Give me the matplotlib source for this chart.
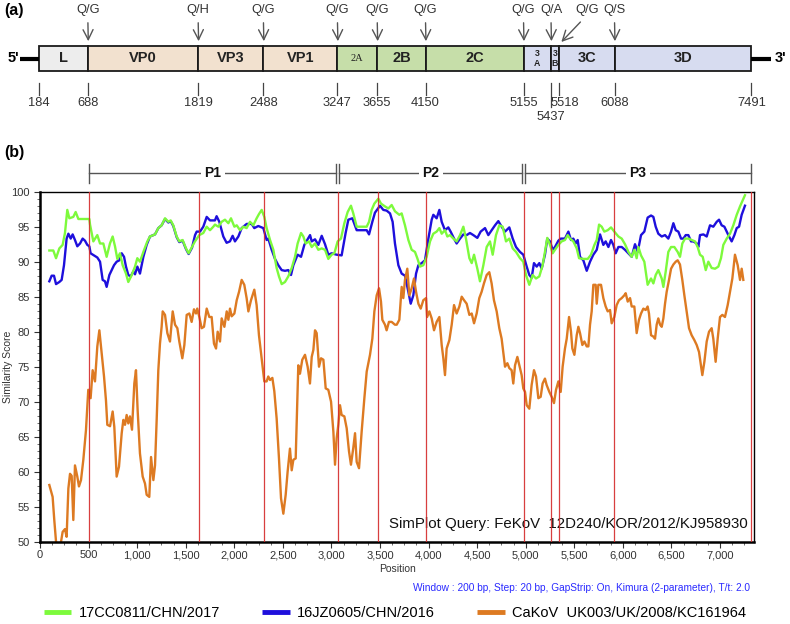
import matplotlib
matplotlib.use("Agg")
import matplotlib.pyplot as plt
from matplotlib.patches import Rectangle
from matplotlib.ticker import MultipleLocator, StrMethodFormatter

plt.rcParams['font.family'] = ['Liberation Sans', 'DejaVu Sans']

# genome map (a)
gene_names = ['L', 'VP0', 'VP3', 'VP1', '2A', '2B', '2C', '3\nA', '3\nB', '3C', '3D']
gene_bounds = [184, 688, 1819, 2488, 3247, 3655, 4150, 5155, 5437, 5518, 6088, 7491]
gene_groups = ['L', 'P1', 'P1', 'P1', 'P2', 'P2', 'P2', 'P3', 'P3', 'P3', 'P3']
site_pos = [688, 1819, 2488, 3247, 3655, 4150, 5155, 5437, 5518, 6088]
site_names = ['Q/G', 'Q/H', 'Q/G', 'Q/G', 'Q/G', 'Q/G', 'Q/G', 'Q/A', 'Q/G', 'Q/S']

# simplot (b)
boundary_pos = [508, 1639, 2310, 3064, 3480, 3970, 4978, 5257, 5343, 5909, 7318]
region_names = ['P1', 'P2', 'P3']
region_bounds = [508, 3064, 4978, 7318]

green_pos = [96, 137, 165, 199, 233, 257, 281, 302, 343, 367, 395, 508, 515, 549, 590, 618, 652, 686, 720, 748,
             772, 796, 823, 851, 885, 909, 944, 978, 1002, 1029, 1064, 1105, 1132, 1184, 1218, 1252, 1287, 1321,
             1345, 1372, 1407, 1434, 1468, 1503, 1530, 1565, 1595, 1640, 1681, 1716, 1750, 1784, 1801, 1836, 1870,
             1904, 1939, 1966, 2001, 2025, 2059, 2093, 2127, 2162, 2196, 2230, 2254, 2282, 2309, 2333, 2368, 2402,
             2436, 2460, 2488, 2522, 2556, 2591, 2625, 2652, 2687, 2711, 2735, 2769, 2797, 2831, 2865, 2900, 2934,
             2968, 3002, 3030, 3064, 3098, 3133, 3167, 3201, 3225, 3260, 3311, 3363, 3387, 3414, 3442, 3483, 3510,
             3551, 3586, 3620, 3654, 3699, 3723, 3757, 3792, 3826, 3860, 3884, 3912, 3946, 3980, 4015, 4049, 4083,
             4111, 4135, 4169, 4193, 4221, 4255, 4289, 4324, 4358, 4385, 4420, 4444, 4468, 4502, 4529, 4564, 4598,
             4632, 4660, 4694, 4728, 4763, 4797, 4831, 4866, 4900, 4941, 4975, 5003, 5037, 5071, 5106, 5140, 5174,
             5198, 5222, 5250, 5277, 5301, 5336, 5370, 5404, 5432, 5456, 5490, 5525, 5549, 5593, 5638, 5672, 5707,
             5731, 5755, 5782, 5809, 5844, 5878, 5912, 5954, 5988, 6022, 6057, 6091, 6118, 6142, 6160, 6187, 6221,
             6255, 6290, 6314, 6338, 6365, 6400, 6417, 6441, 6468, 6496, 6530, 6564, 6588, 6612, 6640, 6674, 6708,
             6743, 6770, 6794, 6822, 6853, 6880, 6914, 6949, 6983, 7010, 7034, 7069, 7103, 7137, 7172, 7206, 7257]
green_sim = [91.6, 91.6, 90.5, 91.9, 92.4, 94.1, 97.4, 96.2, 96.4, 97.1, 96.1, 96.1, 95.3, 92.9, 93.8, 92.6, 92.6,
             90.7, 92.6, 93.6, 92.2, 90.4, 91.2, 89.5, 88.3, 87.1, 88.1, 89.3, 90.5, 90.0, 91.4, 92.9, 93.6, 93.9,
             94.8, 95.2, 96.2, 95.7, 95.9, 95.2, 93.6, 92.9, 93.1, 91.9, 91.2, 92.1, 92.9, 93.8, 94.1, 95.0, 94.5,
             95.0, 95.3, 95.0, 95.7, 96.0, 95.5, 96.2, 95.0, 95.2, 94.5, 95.0, 94.8, 95.7, 95.2, 96.2, 96.8, 97.4,
             96.4, 94.8, 93.1, 91.7, 89.1, 87.9, 86.8, 87.1, 87.9, 89.1, 90.7, 92.6, 94.1, 93.6, 92.6, 92.9, 92.1,
             92.6, 91.7, 91.9, 91.7, 90.4, 91.0, 91.2, 92.9, 93.3, 95.5, 97.1, 98.0, 96.9, 95.0, 95.0, 95.0, 95.7,
             97.4, 98.3, 99.0, 98.3, 97.9, 97.6, 98.1, 97.2, 96.7, 96.9, 95.2, 93.1, 91.7, 91.4, 90.5, 89.3, 89.5,
             90.7, 92.9, 94.0, 94.3, 94.8, 94.0, 94.5, 93.6, 93.8, 93.3, 92.9, 93.8, 95.0, 93.3, 90.5, 89.8, 91.0,
             89.0, 87.2, 89.5, 92.1, 92.9, 91.0, 93.8, 95.2, 95.0, 92.9, 93.3, 91.9, 91.4, 90.5, 90.0, 88.1, 86.7,
             88.1, 87.6, 87.9, 89.5, 91.4, 93.4, 92.4, 91.2, 91.7, 92.4, 92.9, 93.1, 93.8, 93.3, 92.9, 91.9, 90.5,
             90.4, 90.4, 91.0, 92.4, 93.1, 95.3, 95.0, 94.3, 94.5, 94.9, 94.3, 93.6, 93.3, 92.5, 91.4, 90.7, 91.7,
             90.5, 92.1, 90.9, 90.0, 86.7, 87.6, 86.9, 88.1, 88.8, 87.6, 86.4, 88.6, 91.4, 92.1, 92.1, 91.4, 90.7,
             92.6, 93.3, 93.3, 93.1, 92.9, 92.1, 91.0, 90.7, 88.8, 90.0, 89.1, 89.0, 89.3, 90.5, 92.4, 93.3, 94.0,
             95.2, 96.7, 97.9, 99.5]

blue_pos = [96, 120, 144, 165, 199, 223, 247, 274, 292, 316, 336, 360, 384, 412, 439, 463, 487, 508, 521, 556, 590,
            618, 645, 669, 686, 714, 738, 762, 789, 817, 841, 865, 885, 909, 933, 961, 978, 1002, 1029, 1064, 1098,
            1132, 1184, 1218, 1252, 1287, 1321, 1345, 1372, 1407, 1434, 1468, 1503, 1530, 1565, 1596, 1613, 1647,
            1681, 1716, 1750, 1801, 1818, 1846, 1887, 1921, 1955, 1983, 2007, 2042, 2076, 2128, 2179, 2206, 2247,
            2299, 2333, 2350, 2385, 2419, 2453, 2488, 2522, 2556, 2584, 2608, 2652, 2687, 2721, 2780, 2797, 2831,
            2865, 2900, 2934, 2968, 3002, 3054, 3105, 3146, 3174, 3215, 3260, 3363, 3387, 3421, 3448, 3500, 3534,
            3568, 3603, 3630, 3654, 3689, 3723, 3757, 3792, 3816, 3843, 3871, 3895, 3929, 3963, 3998, 4032, 4049,
            4083, 4111, 4135, 4169, 4203, 4227, 4262, 4289, 4324, 4358, 4392, 4426, 4461, 4502, 4536, 4581, 4615,
            4649, 4684, 4718, 4752, 4787, 4831, 4866, 4900, 4941, 4975, 5010, 5037, 5061, 5085, 5113, 5140, 5164,
            5198, 5222, 5250, 5277, 5301, 5336, 5360, 5404, 5439, 5466, 5490, 5514, 5535, 5559, 5593, 5628, 5662,
            5696, 5731, 5765, 5799, 5823, 5851, 5878, 5902, 5926, 5954, 5988, 6022, 6057, 6091, 6125, 6153, 6187,
            6221, 6255, 6290, 6314, 6338, 6365, 6400, 6434, 6468, 6496, 6520, 6544, 6571, 6599, 6623, 6647, 6674,
            6702, 6726, 6760, 6777, 6794, 6829, 6863, 6897, 6931, 6966, 6990, 7017, 7045, 7069, 7093, 7120, 7148,
            7172, 7196, 7223, 7257]
blue_sim = [87.2, 88.0, 88.0, 86.8, 87.1, 87.4, 89.5, 93.3, 94.0, 93.3, 93.9, 93.1, 92.2, 92.6, 93.3, 93.0, 92.4,
            92.2, 91.2, 90.9, 90.6, 90.0, 87.4, 87.2, 86.4, 88.1, 88.8, 89.5, 90.0, 90.2, 91.2, 90.7, 89.3, 88.1,
            87.9, 88.6, 88.2, 89.3, 88.3, 90.7, 92.4, 93.6, 93.9, 94.8, 95.2, 96.1, 95.6, 95.8, 95.1, 93.5, 92.8,
            93.0, 91.8, 91.1, 92.0, 93.8, 94.3, 94.3, 95.0, 96.4, 95.9, 95.9, 96.5, 95.7, 93.6, 92.7, 92.9, 93.7,
            92.9, 93.6, 94.8, 95.4, 95.4, 94.8, 95.1, 94.8, 93.1, 93.3, 91.7, 90.4, 89.5, 88.8, 88.7, 88.8, 88.1,
            89.5, 91.0, 90.7, 92.4, 93.8, 92.9, 93.2, 92.4, 93.7, 92.5, 91.0, 91.2, 91.0, 90.9, 94.1, 96.0, 96.2,
            94.5, 94.5, 93.9, 95.7, 97.0, 98.0, 97.4, 97.3, 96.9, 95.7, 92.6, 89.5, 88.3, 88.0, 85.7, 84.0, 85.2,
            88.3, 89.5, 89.8, 90.2, 93.3, 96.0, 96.7, 96.2, 97.4, 95.7, 94.5, 94.9, 94.3, 93.3, 92.6, 93.3, 93.9,
            93.8, 94.1, 93.8, 93.4, 94.3, 94.8, 93.8, 94.5, 95.2, 95.8, 95.0, 94.3, 94.9, 93.3, 92.1, 91.4, 91.0,
            89.3, 88.1, 87.7, 89.8, 89.3, 89.8, 89.0, 91.0, 93.3, 92.9, 91.7, 92.1, 93.0, 93.3, 93.3, 94.3, 93.1,
            93.3, 92.6, 93.1, 90.7, 90.2, 88.7, 90.0, 91.0, 91.7, 93.9, 92.4, 92.9, 92.1, 93.1, 92.4, 91.2, 92.1,
            92.1, 91.7, 91.2, 90.7, 92.5, 91.4, 93.8, 94.3, 96.3, 96.6, 96.4, 95.0, 94.0, 93.6, 93.8, 93.3, 94.3,
            95.5, 94.5, 94.3, 93.3, 93.3, 93.8, 93.8, 92.9, 92.9, 92.6, 92.1, 93.8, 93.9, 93.6, 95.2, 95.0, 95.7,
            96.0, 95.2, 95.0, 94.3, 93.6, 92.9, 93.8, 94.8, 95.0, 96.7, 98.0]

orange_pos = [96, 130, 147, 165, 182, 199, 216, 233, 257, 274, 292, 309, 326, 343, 360, 384, 401, 422, 446, 473, 497,
              521, 542, 566, 590, 611, 635, 659, 679, 693, 721, 748, 765, 789, 813, 841, 858, 875, 892, 909, 926, 947,
              971, 988, 1005, 1029, 1057, 1081, 1098, 1125, 1143, 1167, 1184, 1201, 1218, 1235, 1252, 1263, 1287,
              1311, 1338, 1366, 1390, 1414, 1434, 1465, 1486, 1510, 1537, 1561, 1585, 1606, 1619, 1640, 1664, 1688,
              1716, 1743, 1767, 1791, 1812, 1829, 1853, 1870, 1898, 1922, 1939, 1956, 1973, 2001, 2025, 2049, 2076,
              2103, 2127, 2145, 2172, 2206, 2230, 2254, 2282, 2309, 2333, 2350, 2368, 2392, 2412, 2436, 2460, 2481,
              2505, 2529, 2549, 2573, 2591, 2608, 2632, 2659, 2676, 2700, 2728, 2755, 2779, 2797, 2814, 2831, 2848,
              2872, 2893, 2917, 2941, 2968, 2996, 3020, 3037, 3054, 3071, 3088, 3105, 3133, 3157, 3181, 3201, 3225,
              3243, 3260, 3284, 3311, 3339, 3363, 3397, 3421, 3442, 3466, 3490, 3510, 3524, 3551, 3568, 3592, 3620,
              3654, 3672, 3699, 3723, 3740, 3757, 3781, 3802, 3826, 3850, 3871, 3895, 3919, 3946, 3974, 3985, 4008,
              4032, 4056, 4083, 4111, 4135, 4152, 4169, 4186, 4214, 4238, 4262, 4289, 4317, 4341, 4365, 4392, 4420,
              4444, 4468, 4495, 4522, 4546, 4570, 4598, 4625, 4649, 4673, 4701, 4728, 4752, 4770, 4787, 4811, 4831,
              4855, 4872, 4890, 4914, 4934, 4958, 4975, 4993, 5010, 5037, 5061, 5085, 5106, 5130, 5154, 5174, 5198,
              5215, 5243, 5267, 5291, 5312, 5336, 5360, 5380, 5404, 5422, 5446, 5466, 5480, 5501, 5525, 5542, 5559,
              5583, 5604, 5628, 5645, 5662, 5679, 5696, 5720, 5731, 5748, 5775, 5799, 5823, 5844, 5868, 5885, 5912,
              5936, 5960, 5988, 6015, 6029, 6050, 6074, 6091, 6118, 6142, 6166, 6187, 6211, 6235, 6255, 6269, 6290,
              6314, 6331, 6348, 6365, 6383, 6400, 6417, 6434, 6451, 6475, 6496, 6520, 6544, 6564, 6588, 6612, 6633,
              6657, 6681, 6708, 6736, 6760, 6784, 6805, 6818, 6839, 6863, 6887, 6914, 6931, 6955, 6976, 7000, 7024,
              7051, 7079, 7103, 7127, 7154, 7182, 7206, 7223, 7240]
orange_sim = [58.1, 56.4, 53.1, 50.0, 48.0, 48.5, 50.0, 51.4, 51.8, 50.7, 57.6, 59.7, 59.4, 53.1, 60.9, 59.3, 57.9,
              58.8, 61.7, 65.9, 71.7, 70.5, 74.5, 72.9, 77.9, 80.2, 76.9, 73.6, 70.2, 66.7, 66.5, 68.6, 66.4, 59.3,
              60.7, 65.5, 67.4, 66.7, 68.1, 66.9, 67.9, 66.0, 72.6, 74.5, 68.8, 62.6, 59.3, 58.3, 56.7, 56.4, 62.1,
              58.8, 60.9, 67.4, 74.5, 78.3, 80.7, 82.9, 82.4, 79.8, 78.6, 82.9, 81.0, 80.5, 78.6, 76.2, 78.1, 82.4,
              82.6, 81.4, 83.2, 82.6, 83.3, 82.1, 80.5, 80.7, 83.3, 82.1, 82.1, 78.3, 77.6, 80.0, 78.6, 81.9, 80.7,
              82.9, 81.7, 83.3, 82.2, 82.6, 84.5, 85.7, 87.4, 86.7, 84.8, 82.9, 84.5, 86.0, 83.8, 79.5, 76.2, 72.9,
              72.9, 73.6, 73.1, 73.4, 71.5, 67.6, 61.9, 56.2, 54.0, 56.7, 60.0, 63.3, 60.2, 61.7, 61.9, 75.2, 74.0,
              76.0, 76.7, 75.0, 72.6, 76.4, 77.4, 80.2, 79.8, 75.0, 76.2, 76.0, 71.9, 71.7, 70.0, 65.7, 61.0, 64.8,
              66.7, 69.5, 68.1, 67.9, 66.2, 62.9, 61.0, 63.4, 65.5, 61.4, 60.5, 65.7, 70.5, 74.3, 76.7, 79.0, 82.9,
              85.2, 86.2, 84.3, 81.7, 81.0, 80.2, 81.4, 81.4, 81.0, 81.0, 81.7, 86.4, 84.8, 87.4, 89.0, 85.2, 86.2,
              87.6, 85.7, 84.0, 83.3, 84.5, 84.8, 82.1, 82.9, 81.9, 80.2, 81.4, 82.1, 78.1, 76.2, 73.8, 77.6, 78.8,
              81.0, 83.8, 82.6, 83.6, 85.0, 84.5, 84.0, 82.4, 82.6, 81.2, 82.6, 84.8, 85.7, 86.9, 88.1, 88.5, 86.9,
              84.5, 82.9, 80.5, 79.0, 76.9, 75.0, 75.5, 74.8, 74.5, 72.6, 75.2, 76.4, 75.2, 73.8, 71.9, 71.4, 69.5,
              69.0, 72.4, 74.5, 73.6, 70.5, 70.7, 72.6, 73.3, 72.4, 71.4, 70.7, 69.8, 71.7, 72.9, 71.4, 75.0, 77.6,
              79.0, 82.1, 80.0, 77.6, 76.7, 79.5, 80.7, 79.8, 78.1, 78.6, 77.9, 77.9, 81.0, 82.9, 86.7, 86.7, 84.0,
              86.7, 86.7, 84.8, 83.6, 82.9, 83.1, 81.2, 82.1, 83.8, 84.5, 84.8, 85.2, 85.5, 84.3, 84.8, 83.6, 83.6,
              79.8, 81.7, 82.6, 83.3, 83.1, 83.6, 82.6, 79.5, 79.3, 79.0, 81.0, 81.9, 81.0, 80.7, 81.9, 84.0, 85.7,
              87.4, 89.0, 89.6, 90.0, 90.2, 89.6, 87.4, 85.2, 82.9, 80.5, 79.5, 78.8, 78.1, 77.1, 75.0, 73.8, 75.7,
              78.6, 80.0, 80.5, 79.0, 75.7, 79.0, 82.1, 82.4, 82.1, 83.8, 85.7, 87.6, 91.0, 89.5, 87.4, 89.0, 87.4]

series_labels = ['17CC0811/CHN/2017', '16JZ0605/CHN/2016', 'CaKoV  UK003/UK/2008/KC161964']
series_colors = ['#7dfa3c', '#1e0fdc', '#dd7a22']
group_colors = {'L': '#ededed', 'P1': '#f2e1cf', 'P2': '#c6dea9', 'P3': '#d7dcf0'}

W, H = 790, 624
fig = plt.figure(figsize=(W / 100, H / 100), dpi=100)

# ---------- (a) genome organisation ----------
ka = 0.09753  # px per nt
ax_a = fig.add_axes([0, 1 - 130 / H, 1, 130 / H])
ax_a.set_xlim(184 - 38.7 / ka, 184 + (W - 38.7) / ka)
ax_a.set_ylim(130, 0)
ax_a.axis('off')

for i, name in enumerate(gene_names):
    x0, x1 = gene_bounds[i], gene_bounds[i + 1]
    ax_a.add_patch(Rectangle((x0, 46), x1 - x0, 25, fc=group_colors[gene_groups[i]], ec='#1a1a1a', lw=1.3))
    xc = (x0 + x1) / 2
    if name == '2A':
        ax_a.text(xc, 58.5, name, ha='center', va='center', fontsize=7.5, family='Liberation Serif',
                  color='#222')
    elif '\n' in name:
        ax_a.text(xc, 58.5, name, ha='center', va='center', fontsize=6.3, fontweight='bold', color='#222',
                  linespacing=1.1)
    else:
        ax_a.text(xc, 58.5, name, ha='center', va='center', fontsize=10.5, fontweight='bold', color='#222')

ax_a.plot([gene_bounds[0] - 190, gene_bounds[0]], [58.5, 58.5], color='black', lw=3, solid_capstyle='butt')
ax_a.plot([gene_bounds[-1], gene_bounds[-1] + 205], [58.5, 58.5], color='black', lw=3, solid_capstyle='butt')
ax_a.text(gene_bounds[0] - 260, 58.5, "5'", ha='center', va='center', fontsize=10.5, fontweight='bold')
ax_a.text(gene_bounds[-1] + 300, 58.5, "3'", ha='center', va='center', fontsize=10.5, fontweight='bold')

for p, s in zip(site_pos, site_names):
    if p == 5518:
        start, lab = (p + 240, 20), p + 285
    else:
        start, lab = (p, 20), p
    ax_a.annotate('', xy=(p + 5, 44), xytext=start,
                  arrowprops=dict(arrowstyle='->', color='#555555', lw=1.0, mutation_scale=18))
    ax_a.text(lab, 10, s, ha='center', va='center', fontsize=9.3, color='#333333')

for p in gene_bounds:
    low = 107 if p == 5437 else 95
    ax_a.plot([p, p], [83, low], color='#444444', lw=0.9)
    if p == 5437:
        ax_a.text(p, 116.5, str(p), ha='center', va='center', fontsize=9.3, color='#333333')
    elif p == 5518:
        ax_a.text(p + 60, 103, str(p), ha='center', va='center', fontsize=9.3, color='#333333')
    else:
        ax_a.text(p, 103, str(p), ha='center', va='center', fontsize=9.3, color='#333333')

fig.text(4 / W, 1 - 10 / H, '(a)', ha='left', va='center', fontsize=11.5, fontweight='bold')
fig.text(4 / W, 1 - 152 / H, '(b)', ha='left', va='center', fontsize=11.5, fontweight='bold')

# ---------- (b) similarity plot ----------
ax = fig.add_axes([40 / W, 1 - 541.7 / H, 714.3 / W, 350 / H])
ax.plot(blue_pos, blue_sim, color=series_colors[1], lw=1.7, label=series_labels[1], zorder=2)
ax.plot(green_pos, green_sim, color=series_colors[0], lw=1.7, label=series_labels[0], zorder=3)
ax.plot(orange_pos, orange_sim, color=series_colors[2], lw=1.7, label=series_labels[2], zorder=2)
for b in boundary_pos:
    ax.axvline(b, color='#d42a2a', lw=0.9, zorder=4, alpha=0.9)

ax.set_xlim(0, 7353)
ax.set_ylim(50, 100)
ax.xaxis.set_major_locator(MultipleLocator(500))
ax.xaxis.set_minor_locator(MultipleLocator(125))
ax.yaxis.set_major_locator(MultipleLocator(5))
ax.yaxis.set_minor_locator(MultipleLocator(1))
ax.xaxis.set_major_formatter(StrMethodFormatter('{x:,.0f}'))
ax.tick_params(which='major', length=4, width=0.8, labelsize=8, colors='#333333')
ax.tick_params(which='minor', length=2.5, width=0.6, colors='#555555')
ax.tick_params(axis='x', pad=2)
for side in ['left', 'bottom']:
    ax.spines[side].set_linewidth(1.8)
for side in ['top', 'right']:
    ax.spines[side].set_linewidth(1.0)
ax.set_xlabel('Position', fontsize=7.5, color='#333333', labelpad=3)
fig.text(8.5 / W, 1 - 366.7 / H, 'Similarity Score', rotation=90, ha='center', va='center',
         fontsize=7.5, color='#333333')

ax.text(0.991, 0.05, 'SimPlot Query: FeKoV  12D240/KOR/2012/KJ958930', transform=ax.transAxes,
        ha='right', va='center', fontsize=10.8, color='#111111')

# region header P1 / P2 / P3
for i, name in enumerate(region_names):
    x0 = region_bounds[i] + (15 if i > 0 else 0)
    x1 = region_bounds[i + 1] - (15 if i < len(region_names) - 1 else 0)
    ax.plot([x0, x1], [102.67, 102.67], color='#555555', lw=1.0, clip_on=False)
    for x in (x0, x1):
        ax.plot([x, x], [101.3, 103.9], color='#555555', lw=1.0, clip_on=False)
    ax.text((x0 + x1) / 2, 102.67, name, ha='center', va='center', fontsize=10, fontweight='bold',
            color='#111111', bbox=dict(fc='white', ec='none', pad=2.5), clip_on=False)

fig.text(750 / W, 1 - 588 / H, 'Window : 200 bp, Step: 20 bp, GapStrip: On, Kimura (2-parameter), T/t: 2.0',
         ha='right', va='center', fontsize=7.3, color='#2a2aff')

handles, labels = ax.get_legend_handles_labels()
order = [1, 0, 2]
leg = fig.legend([handles[i] for i in order], [labels[i] for i in order], loc='center',
                 bbox_to_anchor=(395 / W, 1 - 613 / H), ncol=3, frameon=False, fontsize=10.5,
                 handlelength=1.9, columnspacing=2.9, handletextpad=0.5)
for line in leg.get_lines():
    line.set_linewidth(3.5)
    line.set_solid_capstyle('butt')

fig.savefig('out.png', dpi=100)
